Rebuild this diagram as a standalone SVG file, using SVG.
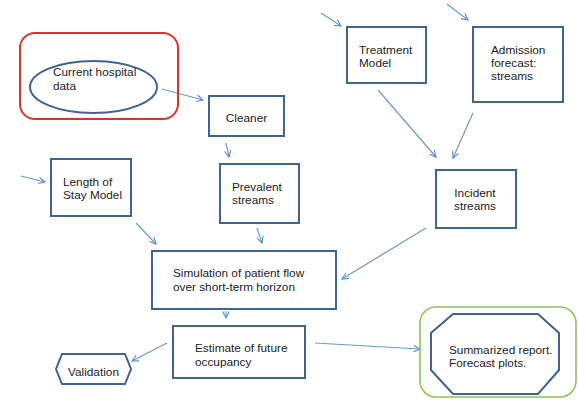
<svg xmlns="http://www.w3.org/2000/svg" width="578" height="401" viewBox="0 0 578 401">
<defs>
<marker id="ah" viewBox="0 0 10 10" refX="9" refY="5" markerWidth="8" markerHeight="8" markerUnits="userSpaceOnUse" orient="auto">
<path d="M1,1 L9,5 L1,9" fill="none" stroke="#5b8cc8" stroke-width="1.4"/>
</marker>
<style>
.box{fill:#fff;stroke:#40638f;stroke-width:2}
.ln{fill:none;stroke:#6a98cf;stroke-width:1.2;marker-end:url(#ah)}
text{font-family:"Liberation Sans",Arial,sans-serif;font-size:11.8px;fill:#222}
.c{text-anchor:middle}
</style>
</defs>
<rect width="578" height="401" fill="#fff"/>
<g id="connectors">
<line class="ln" x1="162" y1="89" x2="203" y2="100"/>
<line class="ln" x1="226" y1="143" x2="229" y2="157"/>
<line class="ln" x1="21" y1="176" x2="45" y2="182"/>
<line class="ln" x1="321" y1="13" x2="341" y2="26"/>
<line class="ln" x1="447" y1="4" x2="468" y2="20"/>
<line class="ln" x1="378" y1="90" x2="436" y2="157"/>
<line class="ln" x1="473" y1="113" x2="453" y2="158"/>
<line class="ln" x1="136" y1="223" x2="156" y2="244"/>
<line class="ln" x1="257" y1="228" x2="262" y2="243"/>
<line class="ln" x1="426" y1="228" x2="342" y2="279"/>
<line class="ln" x1="226" y1="311" x2="226" y2="318"/>
<line class="ln" x1="167" y1="343" x2="132" y2="361"/>
<line class="ln" x1="315" y1="343" x2="420" y2="349"/>
</g>
<g id="current-hospital-data">
<rect x="20" y="33" width="158" height="86" rx="15" fill="none" stroke="#d9342b" stroke-width="2"/>
<ellipse cx="93.5" cy="87" rx="63.5" ry="26" fill="#fff" stroke="#40638f" stroke-width="2"/>
<text x="53" y="76">Current hospital</text>
<text x="53" y="90">data</text>
</g>
<g id="cleaner">
<rect class="box" x="209" y="96" width="75" height="40"/>
<text class="c" x="246.5" y="122">Cleaner</text>
</g>
<g id="length-of-stay">
<rect class="box" x="51" y="159" width="80" height="57"/>
<text x="63" y="186">Length of</text>
<text x="63" y="199">Stay Model</text>
</g>
<g id="prevalent-streams">
<rect class="box" x="220" y="164" width="79" height="59"/>
<text x="232" y="191">Prevalent</text>
<text x="232" y="204">streams</text>
</g>
<g id="treatment-model">
<rect class="box" x="347" y="27" width="79" height="56"/>
<text x="359" y="54">Treatment</text>
<text x="359" y="67">Model</text>
</g>
<g id="admission-forecast">
<rect class="box" x="473" y="27" width="90" height="75"/>
<text x="491" y="54">Admission</text>
<text x="491" y="67">forecast:</text>
<text x="491" y="80">streams</text>
</g>
<g id="incident-streams">
<rect class="box" x="436" y="170" width="80" height="58"/>
<text class="c" x="475" y="197">Incident</text>
<text class="c" x="475" y="210">streams</text>
</g>
<g id="simulation">
<rect class="box" x="152" y="251" width="184" height="58"/>
<text x="173" y="277">Simulation of patient flow</text>
<text x="173" y="291">over short-term horizon</text>
</g>
<g id="estimate">
<rect class="box" x="173" y="326" width="132" height="52"/>
<text x="195" y="352">Estimate of future</text>
<text x="195" y="366">occupancy</text>
</g>
<g id="validation">
<polygon points="56,369 62,354 125,354 131,369 125,384 62,384" fill="#fff" stroke="#40638f" stroke-width="2"/>
<text x="68" y="376">Validation</text>
</g>
<g id="summary">
<rect x="420" y="307" width="156" height="90" rx="16" fill="none" stroke="#8dc55a" stroke-width="1.6"/>
<polygon points="453,314 538,314 559,333 559,370 538,394 453,394 431,370 431,333" fill="#fff" stroke="#40638f" stroke-width="2"/>
<text x="449" y="354">Summarized report.</text>
<text x="449" y="367">Forecast plots.</text>
</g>
</svg>
